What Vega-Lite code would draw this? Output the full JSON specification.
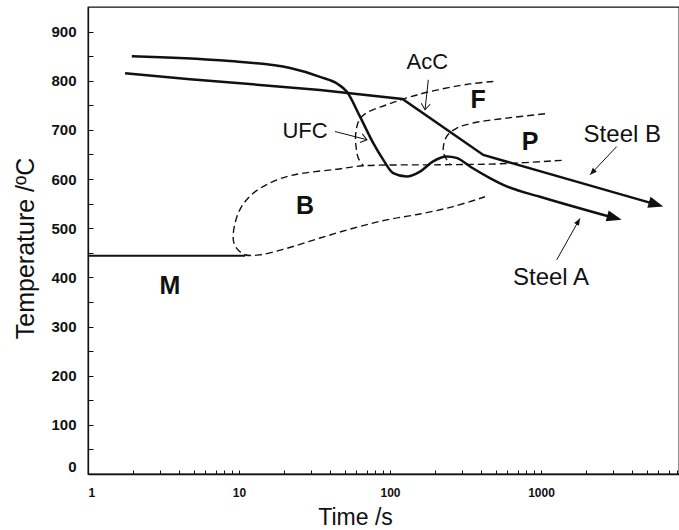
{
  "$schema": "https://vega.github.io/schema/vega-lite/v6.json",
  "width": 591,
  "height": 467,
  "autosize": {"type": "none"},
  "padding": {"left": 88, "top": 7, "right": 0, "bottom": 56},
  "background": "white",
  "config": {
    "view": {"stroke": "#111", "strokeWidth": 1.3},
    "font": "Liberation Sans"
  },
  "datasets": {
    "curves": [
      {"c": "A", "o": 1, "t": 1.95, "T": 850},
      {"c": "A", "o": 2, "t": 7.87, "T": 841},
      {"c": "A", "o": 3, "t": 21.8, "T": 826},
      {"c": "A", "o": 4, "t": 34.4, "T": 808},
      {"c": "A", "o": 5, "t": 45.3, "T": 793},
      {"c": "A", "o": 6, "t": 51.7, "T": 778},
      {"c": "A", "o": 7, "t": 63.3, "T": 727},
      {"c": "A", "o": 8, "t": 77.5, "T": 673},
      {"c": "A", "o": 9, "t": 90.3, "T": 639},
      {"c": "A", "o": 10, "t": 105, "T": 612},
      {"c": "A", "o": 11, "t": 129, "T": 605},
      {"c": "A", "o": 12, "t": 158, "T": 615},
      {"c": "A", "o": 13, "t": 193, "T": 636},
      {"c": "A", "o": 14, "t": 237, "T": 646},
      {"c": "A", "o": 15, "t": 276, "T": 643},
      {"c": "A", "o": 16, "t": 345, "T": 624},
      {"c": "A", "o": 17, "t": 459, "T": 602},
      {"c": "A", "o": 18, "t": 593, "T": 585},
      {"c": "A", "o": 19, "t": 985, "T": 564},
      {"c": "A", "o": 20, "t": 3133, "T": 520},
      {"c": "B", "o": 1, "t": 1.76, "T": 815},
      {"c": "B", "o": 2, "t": 4.74, "T": 803},
      {"c": "B", "o": 3, "t": 13.1, "T": 792},
      {"c": "B", "o": 4, "t": 34.4, "T": 781},
      {"c": "B", "o": 5, "t": 121, "T": 763},
      {"c": "B", "o": 6, "t": 415, "T": 649},
      {"c": "B", "o": 7, "t": 5918, "T": 547.5},
      {"c": "M", "o": 1, "t": 1, "T": 444},
      {"c": "M", "o": 2, "t": 11, "T": 444}
    ],
    "dashed": [
      {"c": "Bay", "o": 1, "t": 1371, "T": 638},
      {"c": "Bay", "o": 2, "t": 535, "T": 631},
      {"c": "Bay", "o": 3, "t": 214, "T": 629},
      {"c": "Bay", "o": 4, "t": 66.6, "T": 627},
      {"c": "Bay", "o": 5, "t": 44.4, "T": 620},
      {"c": "Bay", "o": 6, "t": 26.7, "T": 612},
      {"c": "Bay", "o": 7, "t": 20.7, "T": 605},
      {"c": "Bay", "o": 8, "t": 16.0, "T": 592},
      {"c": "Bay", "o": 9, "t": 12.4, "T": 571},
      {"c": "Bay", "o": 10, "t": 10.4, "T": 544},
      {"c": "Bay", "o": 11, "t": 9.41, "T": 510},
      {"c": "Bay", "o": 12, "t": 9.17, "T": 476},
      {"c": "Bay", "o": 13, "t": 9.66, "T": 459},
      {"c": "Bay", "o": 14, "t": 10.96, "T": 446},
      {"c": "Bay", "o": 15, "t": 13.8, "T": 446},
      {"c": "Bay", "o": 16, "t": 20.7, "T": 459},
      {"c": "Bay", "o": 17, "t": 34.4, "T": 480},
      {"c": "Bay", "o": 18, "t": 57.1, "T": 500},
      {"c": "Bay", "o": 19, "t": 95.1, "T": 517},
      {"c": "Bay", "o": 20, "t": 158, "T": 529},
      {"c": "Bay", "o": 21, "t": 262, "T": 544},
      {"c": "Bay", "o": 22, "t": 426, "T": 564},
      {"c": "Fer", "o": 1, "t": 483, "T": 798.5},
      {"c": "Fer", "o": 2, "t": 339, "T": 793.6},
      {"c": "Fer", "o": 3, "t": 184, "T": 778},
      {"c": "Fer", "o": 4, "t": 129, "T": 765},
      {"c": "Fer", "o": 5, "t": 95.1, "T": 751},
      {"c": "Fer", "o": 6, "t": 70.1, "T": 735},
      {"c": "Fer", "o": 7, "t": 62.6, "T": 720.5},
      {"c": "Fer", "o": 8, "t": 59.3, "T": 693},
      {"c": "Fer", "o": 9, "t": 59.6, "T": 666},
      {"c": "Fer", "o": 10, "t": 61.7, "T": 642.6},
      {"c": "Fer", "o": 11, "t": 66.6, "T": 627},
      {"c": "Pea", "o": 1, "t": 1063, "T": 732.7},
      {"c": "Pea", "o": 2, "t": 593, "T": 724},
      {"c": "Pea", "o": 3, "t": 356, "T": 714},
      {"c": "Pea", "o": 4, "t": 277, "T": 703.6},
      {"c": "Pea", "o": 5, "t": 237, "T": 686.5},
      {"c": "Pea", "o": 6, "t": 225, "T": 659.5},
      {"c": "Pea", "o": 7, "t": 231, "T": 646},
      {"c": "Pea", "o": 8, "t": 250, "T": 630}
    ],
    "arrows": [
      {"a": "acc", "o": 1, "t": 179.4, "T": 802},
      {"a": "acc", "o": 2, "t": 170.6, "T": 741},
      {"a": "ufc", "o": 1, "t": 43.2, "T": 696.7},
      {"a": "ufc", "o": 2, "t": 70.4, "T": 680},
      {"a": "sb", "o": 1, "t": 3172, "T": 666},
      {"a": "sb", "o": 2, "t": 2112, "T": 608.6},
      {"a": "sa", "o": 1, "t": 1271, "T": 435.6},
      {"a": "sa", "o": 2, "t": 1812, "T": 520}
    ],
    "heads": [
      {"h": "A", "t": 3421, "T": 517},
      {"h": "B", "t": 6457, "T": 544},
      {"h": "acc", "t": 170.6, "T": 741},
      {"h": "ufc", "t": 70.4, "T": 680},
      {"h": "sb", "t": 2112, "T": 608.6},
      {"h": "sa", "t": 1812, "T": 520}
    ],
    "labels": [
      {"label": "AcC", "t": 176.6, "T": 839},
      {"label": "UFC", "t": 27.4, "T": 697},
      {"label": "Steel B", "t": 3455, "T": 690},
      {"label": "Steel A", "t": 1165, "T": 398},
      {"label": "F", "t": 384, "T": 761},
      {"label": "P", "t": 845.6, "T": 676},
      {"label": "B", "t": 27.4, "T": 545.5},
      {"label": "M", "t": 3.49, "T": 382.7}
    ]
  },
  "encoding": {
    "x": {
      "field": "t",
      "type": "quantitative",
      "scale": {"type": "log", "domain": [1, 8204], "nice": false},
      "axis": {
        "values": [1, 2, 3, 4, 5, 6, 7, 8, 9, 10, 20, 30, 40, 50, 60, 70, 80, 90, 100, 200, 300, 400, 500, 600, 700, 800, 900, 1000, 2000, 3000, 4000, 5000, 6000, 7000, 8000],
        "labelExpr": "datum.value == 1 ? '1' : datum.value == 10 ? '10' : datum.value == 100 ? '100' : datum.value == 1000 ? '1000' : ''",
        "grid": false,
        "domainColor": "#111",
        "domainWidth": 1.3,
        "tickColor": "#111",
        "tickSize": -4,
        "tickWidth": 1,
        "labelFont": "Liberation Sans",
        "labelFontWeight": "bold",
        "labelFontSize": 12,
        "labelColor": "#111",
        "labelPadding": 17,
        "labelFlush": true,
        "labelBaseline": "top",
        "title": "Time /s",
        "titleFont": "Liberation Sans",
        "titleFontWeight": "normal",
        "titleFontSize": 23,
        "titleColor": "#111",
        "titleX": 267,
        "titleY": 50,
        "titleBaseline": "alphabetic",
        "titleAlign": "center"
      }
    },
    "y": {
      "field": "T",
      "type": "quantitative",
      "scale": {"domain": [0, 950], "nice": false, "zero": false},
      "axis": {
        "values": [0, 50, 100, 150, 200, 250, 300, 350, 400, 450, 500, 550, 600, 650, 700, 750, 800, 850, 900],
        "labelExpr": "datum.value % 100 == 0 ? '' + datum.value : ''",
        "grid": false,
        "domainColor": "#111",
        "domainWidth": 1.3,
        "tickColor": "#111",
        "tickSize": -5,
        "tickWidth": 1,
        "labelFont": "Liberation Sans",
        "labelFontWeight": "bold",
        "labelFontSize": 15,
        "labelColor": "#111",
        "labelPadding": 17,
        "labelFlush": true,
        "title": "Temperature  /ºC",
        "titleFont": "Liberation Sans",
        "titleFontWeight": "normal",
        "titleFontSize": 25,
        "titleColor": "#111",
        "titleAngle": 270,
        "titleX": -55,
        "titleY": 241,
        "titleBaseline": "alphabetic",
        "titleAlign": "center"
      }
    }
  },
  "layer": [
    {
      "data": {"name": "dashed"},
      "mark": {"type": "line", "color": "#111", "strokeWidth": 1.4, "strokeDash": [7, 4], "interpolate": "catmull-rom"},
      "encoding": {"detail": {"field": "c"}, "order": {"field": "o", "type": "quantitative"}}
    },
    {
      "data": {"name": "curves"},
      "transform": [{"filter": "datum.c == 'A'"}],
      "mark": {"type": "line", "color": "#111", "strokeWidth": 2.5, "interpolate": "monotone"},
      "encoding": {"order": {"field": "o", "type": "quantitative"}}
    },
    {
      "data": {"name": "curves"},
      "transform": [{"filter": "datum.c == 'B'"}],
      "mark": {"type": "line", "color": "#111", "strokeWidth": 2.5},
      "encoding": {"order": {"field": "o", "type": "quantitative"}}
    },
    {
      "data": {"name": "curves"},
      "transform": [{"filter": "datum.c == 'M'"}],
      "mark": {"type": "line", "color": "#111", "strokeWidth": 1.8},
      "encoding": {"order": {"field": "o", "type": "quantitative"}}
    },
    {
      "data": {"name": "arrows"},
      "mark": {"type": "line", "color": "#111", "strokeWidth": 1},
      "encoding": {"detail": {"field": "a"}, "order": {"field": "o", "type": "quantitative"}}
    },
    {
      "data": {"name": "heads"},
      "transform": [{"filter": "datum.h == 'A'"}],
      "mark": {"type": "point", "shape": "M0,0L-1,-0.38L-1,0.38Z", "size": 900, "filled": true, "color": "#111", "opacity": 1, "angle": 15.4}
    },
    {
      "data": {"name": "heads"},
      "transform": [{"filter": "datum.h == 'B'"}],
      "mark": {"type": "point", "shape": "M0,0L-1,-0.38L-1,0.38Z", "size": 900, "filled": true, "color": "#111", "opacity": 1, "angle": 16.5}
    },
    {
      "data": {"name": "heads"},
      "transform": [{"filter": "datum.h == 'acc'"}],
      "mark": {"type": "point", "shape": "M-1,-0.75L0,0L-1,0.75", "size": 144, "filled": false, "color": "#111", "strokeWidth": 1, "opacity": 1, "angle": 96.3}
    },
    {
      "data": {"name": "heads"},
      "transform": [{"filter": "datum.h == 'ufc'"}],
      "mark": {"type": "point", "shape": "M-1,-0.75L0,0L-1,0.75", "size": 144, "filled": false, "color": "#111", "strokeWidth": 1, "opacity": 1, "angle": 14.7}
    },
    {
      "data": {"name": "heads"},
      "transform": [{"filter": "datum.h == 'sb'"}],
      "mark": {"type": "point", "shape": "M0,0L-1,-0.4L-1,0.4Z", "size": 196, "filled": true, "color": "#111", "opacity": 1, "angle": 133.3}
    },
    {
      "data": {"name": "heads"},
      "transform": [{"filter": "datum.h == 'sa'"}],
      "mark": {"type": "point", "shape": "M0,0L-1,-0.4L-1,0.4Z", "size": 196, "filled": true, "color": "#111", "opacity": 1, "angle": -60.8}
    },
    {
      "data": {"name": "labels"},
      "transform": [{"filter": {"field": "label", "oneOf": ["AcC", "UFC"]}}],
      "mark": {"type": "text", "font": "Liberation Sans", "fontSize": 22, "color": "#111", "align": "center", "baseline": "middle"},
      "encoding": {"text": {"field": "label"}}
    },
    {
      "data": {"name": "labels"},
      "transform": [{"filter": {"field": "label", "oneOf": ["Steel A", "Steel B"]}}],
      "mark": {"type": "text", "font": "Liberation Sans", "fontSize": 24, "color": "#111", "align": "center", "baseline": "middle"},
      "encoding": {"text": {"field": "label"}}
    },
    {
      "data": {"name": "labels"},
      "transform": [{"filter": {"field": "label", "oneOf": ["F", "P", "B", "M"]}}],
      "mark": {"type": "text", "font": "Liberation Sans", "fontSize": 25, "fontWeight": "bold", "color": "#111", "align": "center", "baseline": "middle"},
      "encoding": {"text": {"field": "label"}}
    }
  ]
}
